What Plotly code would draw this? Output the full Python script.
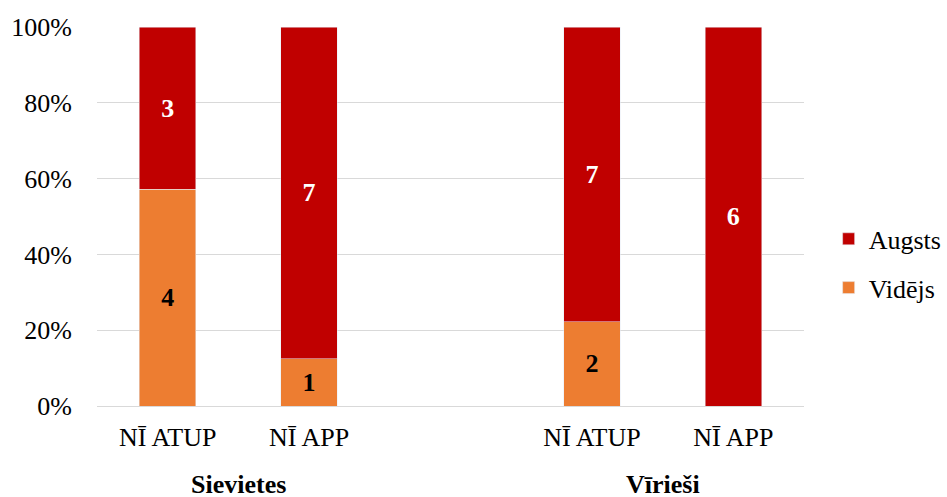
import plotly.graph_objects as go

categories = ["NĪ ATUP", "NĪ APP", "NĪ ATUP", "NĪ APP"]
groups = ["Sievietes", "Vīrieši"]
x_pos = [0, 1, 3, 4]
group_pos = [0.5, 3.5]
videjs = [4, 1, 2, 0]
augsts = [3, 7, 7, 6]

font = "Liberation Serif"

fig = go.Figure()
fig.add_trace(go.Bar(
    x=x_pos, y=videjs, name="Vidējs", marker_color="#ED7D31",
    text=[str(v) if v else "" for v in videjs], textposition="inside",
    insidetextanchor="middle", textangle=0,
    textfont=dict(family=font, size=26, color="black", weight="bold"),
    width=0.4, legendgroup="v", legendrank=2,
))
fig.add_trace(go.Bar(
    x=x_pos, y=augsts, name="Augsts", marker_color="#C00000",
    text=[str(v) if v else "" for v in augsts], textposition="inside",
    insidetextanchor="middle", textangle=0,
    textfont=dict(family=font, size=26, color="white", weight="bold"),
    width=0.4, legendgroup="a", legendrank=1,
))

for g, p in zip(groups, group_pos):
    fig.add_annotation(x=p, y=-0.208, xref="x", yref="paper", text=f"<b>{g}</b>",
                       showarrow=False, yanchor="middle",
                       font=dict(family=font, size=26, color="black"))

fig.update_layout(
    barmode="stack", barnorm="percent",
    width=947, height=497,
    margin=dict(l=97, r=143, t=27, b=91),
    plot_bgcolor="white", paper_bgcolor="white",
    font=dict(family=font, size=26, color="black"),
    uniformtext=dict(minsize=26, mode="show"),
    legend=dict(xref="container", yref="container", x=0.875, y=0.47,
                xanchor="left", yanchor="middle",
                traceorder="grouped", tracegroupgap=12,
                font=dict(family=font, size=26, color="black"),
                itemwidth=30),
    xaxis=dict(range=[-0.5, 4.5], tickvals=x_pos, ticktext=categories,
               showgrid=False, showline=True, linecolor="#D9D9D9", linewidth=1,
               ticks="", ticklen=0, zeroline=False, automargin=False,
               ticklabelstandoff=8),
    yaxis=dict(range=[0, 100], tickvals=[0, 20, 40, 60, 80, 100],
               ticktext=["0%", "20%", "40%", "60%", "80%", "100%"],
               showgrid=True, gridcolor="#D9D9D9", gridwidth=1,
               zeroline=False, ticks="", ticklen=0, automargin=False,
               ticklabelstandoff=24),
    showlegend=True,
)

# page has a default 8px body margin; drop it so the figure fills the window
fig.write_html("out.html", config={"displayModeBar": False},
               post_script="document.body.style.margin='0';")
